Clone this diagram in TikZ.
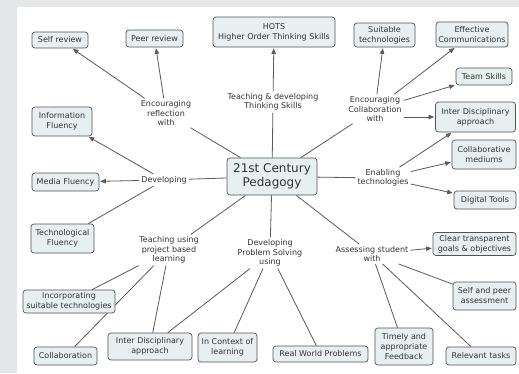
\documentclass[tikz,border=0pt]{standalone}
\usepackage{fontspec}
\setmainfont{DejaVu Sans}
\usetikzlibrary{arrows.meta}
\pgfdeclarelayer{bg}
\pgfdeclarelayer{edges}
\pgfsetlayers{bg,edges,main}
\definecolor{boxfill}{HTML}{E8EFF1}
\definecolor{boxline}{HTML}{4F5455}
\definecolor{linkc}{HTML}{5A5A5A}
\definecolor{txt}{HTML}{333333}
\definecolor{outer}{HTML}{E4E6E8}
\begin{document}
\begin{tikzpicture}[x=1pt,y=-1pt,
  concept/.style={draw=boxline, fill=boxfill, rounded corners=3pt, line width=0.7pt,
    align=center, text=txt, font=\fontsize{8}{10}\selectfont, inner sep=1pt},
  phrase/.style={align=center, text=txt, font=\fontsize{8}{9.5}\selectfont, inner sep=2pt},
  link/.style={draw=linkc, line width=0.8pt},
  arr/.style={link, -{Triangle[length=5.5pt,width=4.5pt]}, shorten >=1pt},
]
\useasboundingbox (0,0) rectangle (519,373);
\begin{pgfonlayer}{bg}
  \fill[outer] (0,0) rectangle (519,373);
  \fill[white] (17,7) rectangle (519,373);
\end{pgfonlayer}

% central concept
\node[concept, font=\fontsize{12}{14}\selectfont, minimum width=90pt, minimum height=37pt] (c) at (272,176.5) {21st Century\\Pedagogy};

% linking phrases
\node[phrase] (refl) at (166,113) {Encouraging\\reflection\\with};
\node[phrase] (tdev) at (273,102) {Teaching \& developing\\Thinking Skills};
\node[phrase] (collab) at (375,109) {Encouraging\\Collaboration\\with};
\node[phrase] (dev) at (164,180) {Developing};
\node[phrase] (enab) at (383,178) {Enabling\\technologies};
\node[phrase] (tpbl) at (169,250) {Teaching using\\project based\\learning};
\node[phrase] (dps) at (270,253) {Developing\\Problem Solving\\using};
\node[phrase] (assess) at (372,254) {Assessing student\\with};

% concepts
\node[concept, minimum width=56pt, minimum height=16pt] (self) at (60,40) {Self review};
\node[concept, minimum width=57pt, minimum height=17pt] (peer) at (154.5,38.5) {Peer review};
\node[concept, minimum width=122pt, minimum height=30pt] (hots) at (274,32) {HOTS\\Higher Order Thinking Skills};
\node[concept, minimum width=61pt, minimum height=24pt] (suit) at (384.5,35) {Suitable\\technologies};
\node[concept, minimum width=72pt, minimum height=25pt] (eff) at (472,34.5) {Effective\\Communications};
\node[concept, minimum width=56pt, minimum height=17pt] (team) at (484,76.5) {Team Skills};
\node[concept, minimum width=80pt, minimum height=30pt] (idtop) at (475.5,117) {Inter Disciplinary\\approach};
\node[concept, minimum width=60pt, minimum height=29pt] (info) at (62,121.5) {Information\\Fluency};
\node[concept, minimum width=67pt, minimum height=18pt] (media) at (65.5,182) {Media Fluency};
\node[concept, minimum width=63pt, minimum height=29pt] (tech) at (62.5,238.5) {Technological\\Fluency};
\node[concept, minimum width=64pt, minimum height=29pt] (collabm) at (484,154.5) {Collaborative\\mediums};
\node[concept, minimum width=62pt, minimum height=18pt] (digital) at (485,200) {Digital Tools};
\node[concept, minimum width=83pt, minimum height=23pt] (clear) at (474.5,244) {Clear transparent\\goals \& objectives};
\node[concept, minimum width=63pt, minimum height=28pt] (selfpeer) at (484.5,296) {Self and peer\\assessment};
\node[concept, minimum width=58pt, minimum height=37pt] (timely) at (404,346.5) {Timely and\\appropriate\\Feedback};
\node[concept, minimum width=70pt, minimum height=18pt] (relevant) at (481,356) {Relevant tasks};
\node[concept, minimum width=95pt, minimum height=16pt] (rwp) at (320.5,354) {Real World Problems};
\node[concept, minimum width=59pt, minimum height=29pt] (incontext) at (227.5,347.5) {In Context of\\learning};
\node[concept, minimum width=84pt, minimum height=27pt] (idbot) at (150,346.5) {Inter Disciplinary\\approach};
\node[concept, minimum width=92pt, minimum height=23pt] (incorp) at (69,301.5) {Incorporating\\suitable technologies};
\node[concept, minimum width=63pt, minimum height=18pt] (collabn) at (65.5,356) {Collaboration};

\begin{pgfonlayer}{edges}
  % centre to linking phrases
  \foreach \p in {refl,tdev,collab,dev,enab,tpbl,dps,assess}
    \draw[link] (c) -- (\p);
  % reflection
  \draw[arr] (refl) -- (self);
  \draw[arr] (refl) -- (peer);
  % thinking skills
  \draw[arr] (tdev) -- (hots);
  % collaboration
  \draw[arr] (collab) -- (suit);
  \draw[arr] (collab) -- (eff);
  \draw[arr] (collab) -- (team);
  \draw[arr] (collab.east |- idtop.west) -- (idtop.west);
  % developing
  \draw[arr] (dev) -- (info);
  \draw[arr] (dev) -- (media);
  \draw[link] (dev) -- (tech);
  % enabling technologies
  \draw[arr] (enab) -- (idtop);
  \draw[arr] (enab) -- (collabm);
  \draw[arr] (enab) -- (digital);
  % project based learning
  \draw[link] (tpbl) -- (incorp);
  \draw[link] (tpbl) -- (collabn);
  \draw[link] (tpbl) -- (idbot);
  % problem solving
  \draw[link] (dps) -- (idbot);
  \draw[link] (dps) -- (incontext);
  \draw[link] (dps) -- (rwp);
  % assessing
  \draw[arr] (assess) -- (clear);
  \draw[link] (assess) -- (selfpeer);
  \draw[link] (assess) -- (timely);
  \draw[link] (assess) -- (relevant);
\end{pgfonlayer}
\end{tikzpicture}
\end{document}
